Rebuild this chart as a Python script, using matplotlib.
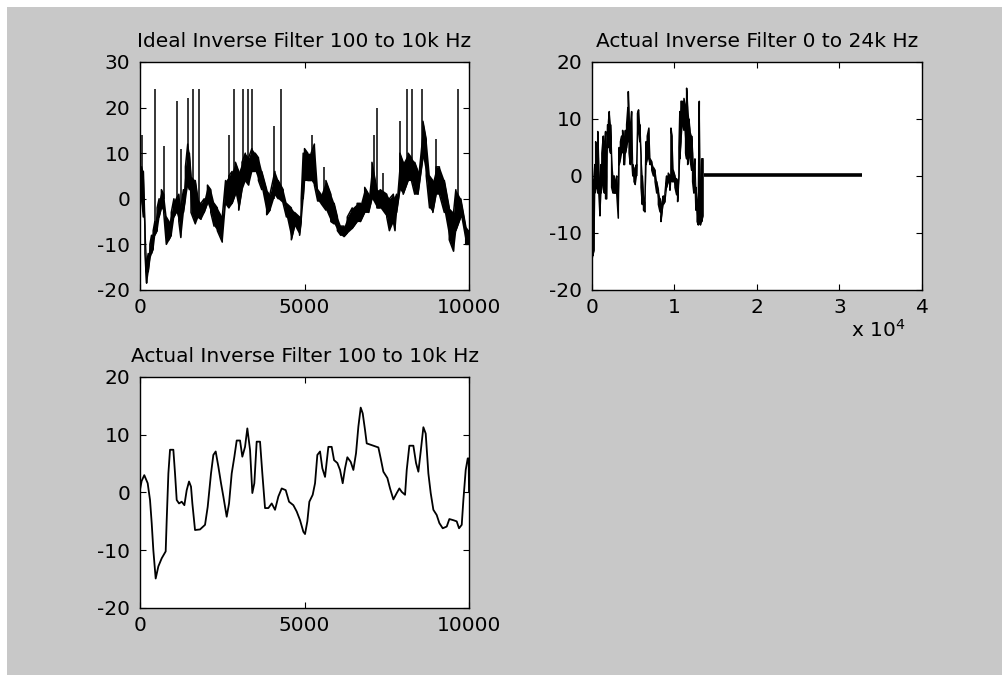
import matplotlib
matplotlib.use("Agg")
import matplotlib.pyplot as plt
from matplotlib.patches import Rectangle
from matplotlib.ticker import FuncFormatter

plt.rcParams["axes.unicode_minus"] = False

# ---- Ideal inverse filter 100 to 10k Hz (band envelope + clipped spikes) ----
ideal_x = [0, 50, 100, 150, 200, 250, 300, 350, 400, 450, 520, 580, 650, 720, 800, 880, 950,
           1030, 1100, 1180, 1240, 1320, 1380, 1450, 1500, 1550, 1680, 1760, 1850, 1950, 2050,
           2150, 2250, 2350, 2500, 2600, 2700, 2800, 2900, 3000, 3100, 3200, 3300, 3400, 3500,
           3600, 3700, 3850, 3950, 4100, 4200, 4350, 4450, 4600, 4700, 4850, 4900, 4960, 5000,
           5100, 5200, 5300, 5400, 5500, 5650, 5800, 5900, 6000, 6100, 6200, 6300, 6450, 6600,
           6700, 6830, 6950, 7050, 7200, 7300, 7500, 7580, 7700, 7750, 7800, 7900, 8000, 8150,
           8250, 8350, 8450, 8600, 8700, 8800, 8900, 9000, 9100, 9250, 9400, 9530, 9600, 9750,
           9900, 10000]
ideal_lo = [-2, 0, -4, -12, -18.5, -16, -13, -12, -11, -8, -7, -4, -2, -3, -10, -9, -8,
            -4, -3, -5, -8.5, -3, 0, 3, 2, -3, -5.5, -4, -4.5, -3, -1,
            -3, -6, -7, -9.5, -1, -2, -1, 1, -2.5, 2, 4, 3, 6, 6,
            4, 2, -3.5, -2.5, 1, 0, -1, -4, -9, -6, -8, -5, 0, 4,
            4, 4, 3, -0.5, -1, -2.5, -5, -5.5, -7, -8, -8.3, -7.5, -6.5, -5,
            -5, -3, -3, 0, -2, -2, -4, -7, -5, -7, -3, 2, 1, 4,
            4, 1, 1, 9, 5, -2, -3, 1, 1, -3, -9, -11.5, -7, -4,
            -10, -10]
ideal_hi = [5, 7, 6, -6, -14, -12, -10, -8, -7, -5, -2, 0, 2, 1, -4, -5, -3,
            0, 0, 1, -2, 2, 7, 12, 10, 5, 4, 0, -1, 0, 3,
            2, -1, -2, -4, 4, 5, 6, 8, 6, 8, 10, 9, 11, 10,
            9, 6, 2, 1, 6, 4, 2, -1, -2, -3, -4, 0, 10, 11,
            10, 10, 12, 2, 1, 4, 1, -1, -4, -6, -6, -4, -2, -1,
            -1, 2.5, 1, 8, 2, 2, 1, 0, 1, 0, 1, 10, 8, 10,
            9, 8, 6, 17, 13, 5, 4, 7, 7, 4, -2, -3, 2, 0,
            -6, -7]
spike_x = [50, 470, 740, 1115, 1240, 1470, 1620, 1780, 2700, 2870, 3140, 3290, 3390, 4080,
           4300, 5240, 5590, 7120, 7195, 7400, 7900, 8130, 8260, 8560, 8995, 9675]
spike_base = [0, -6, 0, -2, -5, 5, 0, -2, 0, 2, 3, 5, 6, 0,
              1, 5, 0, 2, 0, 0, 4, 4, 4, 8, 1, -3]
spike_top = [14, 24, 11.5, 21.5, 11, 22, 24, 24, 14, 24, 24, 24, 24, 16,
             24, 14, 7, 14, 20, 5.6, 17, 24, 24, 24, 13, 24]

# ---- Actual inverse filter 0 to 24k Hz ----
full_x = [0, 100, 250, 350, 450, 600, 700, 800, 970, 1100, 1200, 1374, 1500, 1650, 1780, 1900,
          2000, 2100, 2250, 2384, 2550, 2700, 2850, 3000, 3192, 3300, 3450, 3600, 3717, 3850,
          3950, 4050, 4200, 4350, 4404, 4500, 4650, 4808, 4950, 5100, 5250, 5400, 5520, 5650,
          5800, 5950, 6100, 6250, 6424, 6550, 6700, 6900, 7050, 7250, 7450, 7650, 7850, 8050,
          8250, 8363, 8500, 8650, 8850, 9050, 9250, 9454, 9575, 9700, 9858, 10060, 10262, 10383,
          10545, 10650, 10787, 10949, 11151, 11350, 11474, 11600, 11750, 11878, 12080, 12200,
          12350, 12484, 12600, 12750, 12888, 13009, 13150, 13300, 13450]
full_lo = [-15, -14, -13, -3, -2, -2, -3, -2, -7, -3, -2, -1, -3, -4, -4, 5,
           6, 5, 4, -2, -3, -3, -3, -3, -7.4, 2, 3, 4, 5, 2,
           2, 4, 5, 6, 7, 4, 2, 3, 0, -1, -1.5, 0, 8, 8,
           6, -2, -5, -6, -6.3, 2, 3, 3, 2, 1, 0, -1, -3, -5,
           -6.3, -8, -6.3, -5, -4.5, -2, -1, -2.5, 0, -1, -1, -2, -3.3, -4.5,
           0, 3, 6, 9, 8, 4, 3, 2, 4, 3, 1, -1,
           -3, -0.4, -6, -8, -8.6, -8, -8.6, -8, -7]
full_hi = [0, -1, 0, 2, 6, 1, 7.8, 3, -2, 2, 4, 7, 4, 7.8, 0, 9,
           9.5, 11.3, 9, 3, 0, 0, -1, 0, -3, 5, 6, 7, 8, 5,
           4, 8, 9, 12, 14.8, 10, 8, 11.3, 2, 1, 1.5, 2, 11, 11.6,
           9, 3.5, 0, -4, -4.5, 6, 7, 8.4, 3, 2.5, 1.5, 1, -1, -2.5,
           -4, -5.5, -4.5, -3.5, -3, 0, 0.5, 0, 8.4, 7, 1, 0, -0.5, -2,
           5, 11.3, 13.1, 13.1, 13.6, 12, 15.4, 12, 10, 8, 7, 4,
           1, 3, -2, -5, -5, 13.1, -3, 3, 3]
tail_x = [13520, 32768]
tail_y = [0.2, 0.2]

# ---- Actual inverse filter 100 to 10k Hz ----
band_x = [0, 50, 130, 233, 304, 355, 405, 476, 557, 659, 780, 811, 862, 912, 1013, 1064, 1115,
          1186, 1267, 1348, 1419, 1490, 1550, 1591, 1672, 1824, 1976, 2057, 2158, 2229, 2300,
          2381, 2462, 2533, 2635, 2706, 2787, 2868, 2939, 3040, 3110, 3192, 3262, 3344, 3414,
          3475, 3546, 3648, 3718, 3800, 3901, 4003, 4104, 4205, 4307, 4429, 4530, 4661, 4763,
          4864, 4965, 5016, 5086, 5147, 5249, 5320, 5390, 5472, 5542, 5624, 5725, 5826, 5898,
          5999, 6080, 6161, 6232, 6302, 6404, 6485, 6566, 6637, 6708, 6769, 6840, 6891, 7043,
          7245, 7316, 7397, 7519, 7600, 7701, 7803, 7883, 7955, 8056, 8107, 8187, 8309, 8390,
          8461, 8532, 8613, 8684, 8765, 8836, 8917, 9018, 9099, 9201, 9323, 9403, 9525, 9626,
          9697, 9779, 9829, 9900, 9961, 9990, 10000]
band_y = [0.5, 2.0, 3.0, 1.6, -1.3, -5.3, -10, -14.9, -12.8, -11.4, -10.2, -4.8, 3.3, 7.4, 7.4,
          3.3, -1.3, -1.9, -1.6, -2.2, 0.4, 1.9, 1.0, -1.9, -6.5, -6.4, -5.6, -2.5, 3.3, 6.5,
          7.1, 4.5, 1.6, -0.7, -4.2, -1.9, 3.3, 6.2, 9.0, 9.0, 6.2, 7.9, 11.1, 7.4, -0.1, 1.6,
          8.8, 8.8, 3.3, -2.7, -2.7, -1.9, -3.0, -0.7, 0.7, 0.4, -1.6, -2.2, -3.3, -4.8, -6.8,
          -7.2, -5.0, -1.6, -0.4, 1.6, 6.5, 7.1, 4.2, 2.7, 7.9, 7.9, 5.6, 5.1, 3.9, 1.6, 4.2,
          6.1, 5.3, 3.9, 6.8, 11.4, 14.7, 13.7, 10.8, 8.5, 8.2, 7.8, 5.9, 3.6, 2.5, 0.7, -1.2,
          -0.1, 0.7, 0.1, -0.4, 3.9, 8.1, 8.1, 5.1, 3.6, 7.1, 11.3, 10.2, 3.3, -0.1, -3.0,
          -3.9, -5.3, -6.2, -5.9, -4.6, -4.8, -5.0, -6.2, -5.6, -1.3, 3.9, 5.9, 5.9, 0.2]


def zigzag(xs, lo, hi):
    # walk lo->hi then hi->lo so the band looks like dense vertical strokes
    px, py = [], []
    for i, (x, a, b) in enumerate(zip(xs, lo, hi)):
        pair = (a, b) if i % 2 == 0 else (b, a)
        px += [x, x]
        py += list(pair)
    return px, py


def matlab_axes(ax):
    ax.set_facecolor("white")
    for s in ax.spines.values():
        s.set_linewidth(1.0)
        s.set_color("black")
    ax.tick_params(direction="in", length=4, width=0.8, top=True, right=True,
                   labelsize=14.5, pad=6)
    ax.tick_params(axis="y", pad=7)


fig = plt.figure(figsize=(10.03, 6.75), dpi=100, facecolor="white")
fig.add_artist(Rectangle((7 / 1003, 0), 1, 1 - 7 / 675, transform=fig.transFigure,
                         facecolor="#c8c8c8", edgecolor="none", zorder=-5))

ax1 = fig.add_axes([0.1396, 0.5704, 0.328, 0.3378])
ax2 = fig.add_axes([0.5902, 0.5704, 0.329, 0.3378])
ax3 = fig.add_axes([0.1396, 0.0993, 0.328, 0.3422])

# top left: dense band + thin clipped spikes
ax1.fill_between(ideal_x, ideal_lo, ideal_hi, color="black", linewidth=0)
px, py = zigzag(ideal_x, ideal_lo, ideal_hi)
ax1.plot(px, py, color="black", linewidth=1.1)
ax1.vlines(spike_x, spike_base, spike_top, color="black", linewidth=1.1)
ax1.set_xlim(0, 10000)
ax1.set_ylim(-20, 30)
ax1.set_xticks([0, 5000, 10000])
ax1.set_yticks([-20, -10, 0, 10, 20, 30])
ax1.set_title("Ideal Inverse Filter 100 to 10k Hz", fontsize=14.5, pad=11)
matlab_axes(ax1)

# top right
ax2.fill_between(full_x, full_lo, full_hi, color="black", linewidth=0)
px, py = zigzag(full_x, full_lo, full_hi)
ax2.plot(px, py, color="black", linewidth=1.1)
ax2.plot(tail_x, tail_y, color="black", linewidth=2.6, solid_capstyle="butt")
ax2.set_xlim(0, 40000)
ax2.set_ylim(-20, 20)
ax2.set_xticks([0, 10000, 20000, 30000, 40000])
ax2.xaxis.set_major_formatter(FuncFormatter(lambda v, p: f"{v / 1e4:g}"))
ax2.set_yticks([-20, -10, 0, 10, 20])
ax2.set_title("Actual Inverse Filter 0 to 24k Hz", fontsize=14.5, pad=11)
ax2.text(0.95, -0.205, r"x 10$^{4}$", transform=ax2.transAxes, ha="right", va="baseline",
         fontsize=14.5)
matlab_axes(ax2)

# bottom left
ax3.plot(band_x, band_y, color="black", linewidth=1.3)
ax3.set_xlim(0, 10000)
ax3.set_ylim(-20, 20)
ax3.set_xticks([0, 5000, 10000])
ax3.set_yticks([-20, -10, 0, 10, 20])
ax3.set_title("Actual Inverse Filter 100 to 10k Hz", fontsize=14.5, pad=11)
matlab_axes(ax3)

fig.savefig("out.png", dpi=100, facecolor=fig.get_facecolor())
